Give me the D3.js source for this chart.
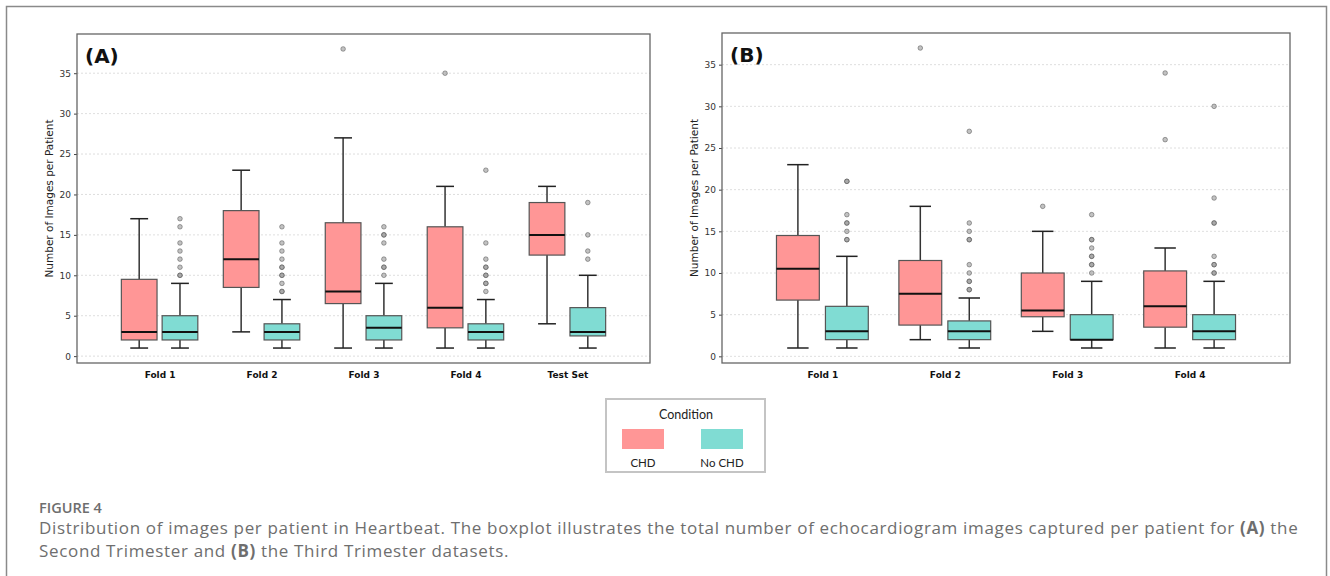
<!DOCTYPE html>
<html>
<head>
<meta charset="utf-8">
<script src="https://cdn.jsdelivr.net/npm/d3@7"></script>
<style>
  body { margin: 0; background: #fff; }
  svg { display: block; }
</style>
</head>
<body>
<div id="chart"></div>
<script>
const width = 1330;
const height = 576;

const conditions = ["CHD", "No CHD"];
const colors = ["#ff9696", "#80dcd3"];
const yTicks = [0, 5, 10, 15, 20, 25, 30, 35];

// panel A : second trimester
const foldsA = ["Fold 1", "Fold 2", "Fold 3", "Fold 4", "Test Set"];
// [low whisker, q1, median, q3, high whisker]
const chdA = [[1, 2, 3, 9.5, 17], [3, 8.5, 12, 18, 23], [1, 6.5, 8, 16.5, 27], [1, 3.5, 6, 16, 21], [4, 12.5, 15, 19, 21]];
const noChdA = [[1, 2, 3, 5, 9], [1, 2, 3, 4, 7], [1, 2, 3.5, 5, 9], [1, 2, 3, 4, 7], [1, 2.5, 3, 6, 10]];
const chdOutA = [[], [], [38], [35], []];
const noChdOutA = [
    [10, 10, 11, 12, 13, 14, 16, 17],
    [8, 8, 9, 10, 10, 11, 11, 12, 13, 14, 16],
    [10, 11, 11, 12, 14, 15, 15, 16],
    [8, 9, 9, 10, 10, 11, 11, 12, 14, 23],
    [12, 13, 15, 19]
];

// panel B : third trimester
const foldsB = ["Fold 1", "Fold 2", "Fold 3", "Fold 4"];
const chdB = [[1, 6.75, 10.5, 14.5, 23], [2, 3.75, 7.5, 11.5, 18], [3, 4.75, 5.5, 10, 15], [1, 3.5, 6, 10.25, 13]];
const noChdB = [[1, 2, 3, 6, 12], [1, 2, 3, 4.25, 7], [1, 2, 2, 5, 9], [1, 2, 3, 5, 9]];
const chdOutB = [[], [37], [18], [26, 34]];
const noChdOutB = [
    [14, 14, 15, 16, 16, 17, 21, 21],
    [8, 8, 9, 9, 10, 11, 14, 14, 15, 16, 27],
    [10, 11, 11, 12, 12, 13, 14, 14, 17],
    [10, 10, 11, 11, 12, 16, 16, 19, 30]
];

const svg = d3.select("#chart").append("svg")
    .attr("width", width)
    .attr("height", height);

// outer figure frame
svg.append("rect")
    .attr("x", 6.5).attr("y", 6.5)
    .attr("width", 1320).attr("height", 600)
    .attr("fill", "none")
    .attr("stroke", "#8a8a8a")
    .attr("stroke-width", 1.5);

function drawPanel(opt) {
    const x = d3.scaleLinear().domain(opt.xDomain).range([opt.left, opt.right]);
    const y = d3.scaleLinear().domain(opt.yDomain).range([opt.bottom, opt.top]);
    const g = svg.append("g");

    // grid
    g.selectAll(".grid")
        .data(yTicks)
        .join("line")
        .attr("x1", opt.left).attr("x2", opt.right)
        .attr("y1", d => y(d)).attr("y2", d => y(d))
        .attr("stroke", "#d6d6d6")
        .attr("stroke-width", 0.8)
        .attr("stroke-dasharray", "2,2");

    const boxW = 0.35;
    const offs = [-0.2, 0.2];
    const groups = [opt.chd, opt.noChd];
    const outs = [opt.chdOut, opt.noChdOut];

    groups.forEach((stats, k) => {
        stats.forEach((s, i) => {
            const c = i + offs[k];
            const x0 = x(c - boxW / 2), x1 = x(c + boxW / 2);
            const cx = x(c);
            const capL = x(c - boxW / 4), capR = x(c + boxW / 4);
            // whiskers
            g.append("line").attr("x1", cx).attr("x2", cx)
                .attr("y1", y(s[0])).attr("y2", y(s[1]))
                .attr("stroke", "#333").attr("stroke-width", 1.5);
            g.append("line").attr("x1", cx).attr("x2", cx)
                .attr("y1", y(s[3])).attr("y2", y(s[4]))
                .attr("stroke", "#333").attr("stroke-width", 1.5);
            // caps
            [s[0], s[4]].forEach(v => {
                g.append("line").attr("x1", capL).attr("x2", capR)
                    .attr("y1", y(v)).attr("y2", y(v))
                    .attr("stroke", "#222").attr("stroke-width", 1.5);
            });
            // box
            g.append("rect")
                .attr("x", x0).attr("y", y(s[3]))
                .attr("width", x1 - x0).attr("height", y(s[1]) - y(s[3]))
                .attr("fill", colors[k])
                .attr("stroke", "#555")
                .attr("stroke-width", 1.2);
            // median
            g.append("line").attr("x1", x0).attr("x2", x1)
                .attr("y1", y(s[2])).attr("y2", y(s[2]))
                .attr("stroke", "#111").attr("stroke-width", 2);
            // outliers
            g.selectAll(null)
                .data(outs[k][i])
                .join("circle")
                .attr("cx", cx).attr("cy", d => y(d))
                .attr("r", 2.3)
                .attr("fill", "#9a9a9a")
                .attr("fill-opacity", 0.6)
                .attr("stroke", "#555")
                .attr("stroke-opacity", 0.6)
                .attr("stroke-width", 0.9);
        });
    });

    // y axis
    const ya = g.append("g")
        .attr("transform", `translate(${opt.left},0)`)
        .call(d3.axisLeft(y).tickValues(yTicks).tickSize(3).tickPadding(3));
    ya.select(".domain").remove();
    ya.selectAll("line").attr("stroke", "#444");
    ya.selectAll("text")
        .attr("font-family", "DejaVu Sans")
        .attr("font-size", 9)
        .attr("fill", "#333");

    // x axis labels
    const xa = g.append("g")
        .attr("transform", `translate(0,${opt.bottom})`)
        .call(d3.axisBottom(x).tickValues(d3.range(opt.folds.length))
            .tickFormat(i => opt.folds[i]).tickSize(0).tickPadding(9));
    xa.select(".domain").remove();
    xa.selectAll("text")
        .attr("font-family", "DejaVu Sans")
        .attr("font-weight", "bold")
        .attr("font-size", 9)
        .attr("fill", "#111");

    // frame
    g.append("rect")
        .attr("x", opt.left).attr("y", opt.top)
        .attr("width", opt.right - opt.left).attr("height", opt.bottom - opt.top)
        .attr("fill", "none")
        .attr("stroke", "#666")
        .attr("stroke-width", 1.3);

    // y label
    g.append("text")
        .attr("transform", `translate(${opt.left - 24},${(opt.top + opt.bottom) / 2}) rotate(-90)`)
        .attr("text-anchor", "middle")
        .attr("font-family", "DejaVu Sans")
        .attr("font-size", 10.5)
        .attr("fill", "#222")
        .text("Number of Images per Patient");

    // panel tag
    g.append("text")
        .attr("x", opt.left + 8).attr("y", opt.top + 29)
        .attr("font-family", "DejaVu Sans")
        .attr("font-weight", "bold")
        .attr("font-size", 20)
        .attr("fill", "#111")
        .text(opt.tag);
}

drawPanel({
    tag: "(A)", folds: foldsA, chd: chdA, noChd: noChdA, chdOut: chdOutA, noChdOut: noChdOutA,
    left: 77, right: 650, top: 34, bottom: 363,
    xDomain: [-0.81, foldsA.length - 1 + 0.81], yDomain: [-0.85, 39.85]
});

drawPanel({
    tag: "(B)", folds: foldsB, chd: chdB, noChd: noChdB, chdOut: chdOutB, noChdOut: noChdOutB,
    left: 722, right: 1290, top: 33, bottom: 363,
    xDomain: [-0.82, foldsB.length - 1 + 0.82], yDomain: [-0.8, 38.8]
});

// legend
const lg = svg.append("g");
lg.append("rect")
    .attr("x", 606).attr("y", 399)
    .attr("width", 159).attr("height", 73)
    .attr("fill", "#fff")
    .attr("stroke", "#c4c4c4")
    .attr("stroke-width", 2);
lg.append("text")
    .attr("x", 686).attr("y", 419)
    .attr("text-anchor", "middle")
    .attr("font-family", "Lato")
    .attr("font-size", 12.5)
    .attr("fill", "#222")
    .text("Condition");
const lx = d3.scalePoint().domain(conditions).range([643, 722]);
conditions.forEach((c, i) => {
    lg.append("rect")
        .attr("x", lx(c) - 21).attr("y", 429)
        .attr("width", 42).attr("height", 20)
        .attr("fill", colors[i]);
    lg.append("text")
        .attr("x", lx(c)).attr("y", 467)
        .attr("text-anchor", "middle")
        .attr("font-family", "Lato")
        .attr("font-size", 11.5)
        .attr("fill", "#222")
        .text(c);
});

// caption
const cap = svg.append("g").attr("font-family", "Open Sans").attr("fill", "#6e6e6e");
cap.append("text")
    .attr("x", 39).attr("y", 513)
    .attr("font-size", 14.5)
    .attr("font-weight", 600)
    .text("FIGURE 4");
const line1 = cap.append("text").attr("x", 39).attr("y", 534)
    .attr("font-size", 17).attr("letter-spacing", 0.66);
line1.append("tspan").text("Distribution of images per patient in Heartbeat. The boxplot illustrates the total number of echocardiogram images captured per patient for ");
line1.append("tspan").attr("font-weight", "bold").text("(A)");
line1.append("tspan").text(" the");
const line2 = cap.append("text").attr("x", 39).attr("y", 557)
    .attr("font-size", 17).attr("letter-spacing", 0.66);
line2.append("tspan").text("Second Trimester and ");
line2.append("tspan").attr("font-weight", "bold").text("(B)");
line2.append("tspan").text(" the Third Trimester datasets.");
</script>
</body>
</html>
